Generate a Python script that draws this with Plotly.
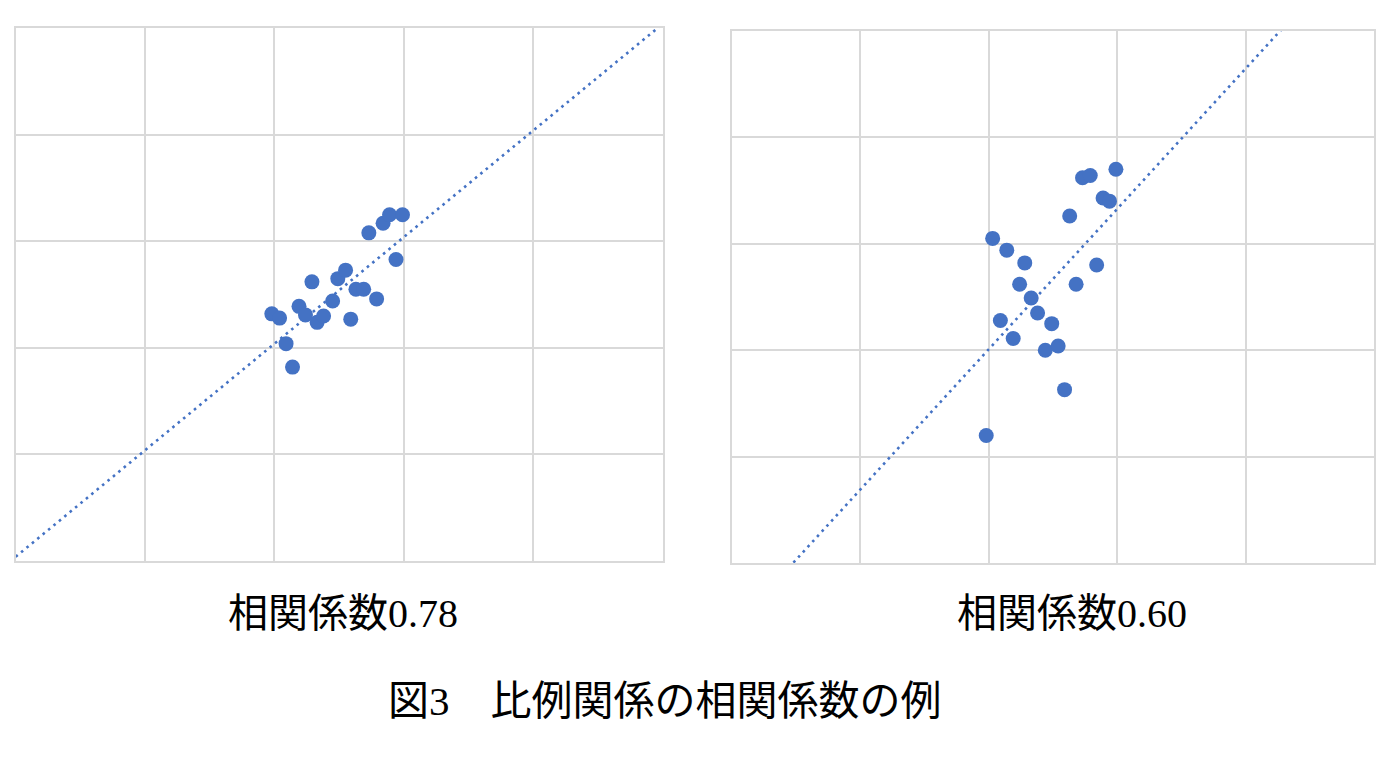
import plotly.graph_objects as go

# ---- data ----
x_left = [1.98, 2.04, 2.09, 2.14, 2.19, 2.24, 2.29, 2.33, 2.38, 2.45, 2.49,
          2.55, 2.59, 2.63, 2.69, 2.73, 2.79, 2.84, 2.89, 2.94, 2.99]
y_left = [2.32, 2.28, 2.04, 1.82, 2.39, 2.31, 2.62, 2.24, 2.30, 2.44, 2.65,
          2.73, 2.27, 2.55, 2.55, 3.08, 2.46, 3.17, 3.25, 2.83, 3.25]

x_right = [1.98, 2.03, 2.09, 2.14, 2.19, 2.24, 2.28, 2.33, 2.38, 2.44, 2.49,
           2.54, 2.59, 2.63, 2.68, 2.73, 2.79, 2.84, 2.89, 2.94, 2.99]
y_right = [1.20, 3.05, 2.28, 2.94, 2.11, 2.62, 2.82, 2.49, 2.35, 2.00, 2.25,
           2.04, 1.63, 3.26, 2.62, 3.62, 3.64, 2.80, 3.43, 3.40, 3.70]

# linear trendlines (slope, intercept) as shown in the picture
trend_left = (1.00, 0.04)
trend_right = (1.317, -0.624)

labels = ["相関係数0.78", "相関係数0.60"]
caption = "図3\u3000比例関係の相関係数の例"

axis_range = [0, 5]
trend_x = [0, 5]

BLUE = "#4472C4"
GRID = "#d9d9d9"
FONT = "Liberation Serif, Noto Sans CJK JP, sans-serif"

# page body has an 8px margin: figure occupies window pixels 8..1392 x 8..770
OFF = 8
W, H = 1392 - OFF, 770 - OFF

def px(xp):
    return (xp - OFF) / W

def py(yp):
    return (H - (yp - OFF)) / H

fig = go.Figure()

def add_panel(xs, ys, trend, xa, ya):
    m, b = trend
    fig.add_trace(go.Scatter(
        x=trend_x, y=[m * v + b for v in trend_x], mode="lines",
        line=dict(color=BLUE, width=2.6, dash="2.6px,4.4px"),
        xaxis=xa, yaxis=ya, showlegend=False, hoverinfo="skip"))
    fig.add_trace(go.Scatter(
        x=xs, y=ys, mode="markers",
        marker=dict(color=BLUE, size=15, line=dict(width=0)),
        xaxis=xa, yaxis=ya, showlegend=False, cliponaxis=False))

add_panel(x_left, y_left, trend_left, "x", "y")
add_panel(x_right, y_right, trend_right, "x2", "y2")

ax_common = dict(range=axis_range, dtick=1, showticklabels=False, ticks="",
                 showgrid=True, gridcolor=GRID, gridwidth=1.6, zeroline=False,
                 showline=True, linecolor=GRID, linewidth=1.8, mirror=True,
                 fixedrange=True)

fig.update_layout(
    width=W, height=H, autosize=False,
    margin=dict(l=0, r=0, t=0, b=0),
    paper_bgcolor="white", plot_bgcolor="white",
    xaxis=dict(domain=[px(15.7), px(662.5)], anchor="y", **ax_common),
    yaxis=dict(domain=[py(561), py(28.3)], anchor="x", **ax_common),
    xaxis2=dict(domain=[px(732), px(1374)], anchor="y2", **ax_common),
    yaxis2=dict(domain=[py(563.3), py(30.7)], anchor="x2", **ax_common),
    annotations=[
        dict(text=labels[0], x=px(343), y=py(613), xref="paper", yref="paper",
             showarrow=False, xanchor="center", yanchor="middle",
             font=dict(family=FONT, size=40, color="black")),
        dict(text=labels[1], x=px(1072), y=py(613), xref="paper", yref="paper",
             showarrow=False, xanchor="center", yanchor="middle",
             font=dict(family=FONT, size=40, color="black")),
        dict(text=caption, x=px(665), y=py(701), xref="paper", yref="paper",
             showarrow=False, xanchor="center", yanchor="middle",
             font=dict(family=FONT, size=41, color="black")),
    ],
)

fig.write_html("out.html")
